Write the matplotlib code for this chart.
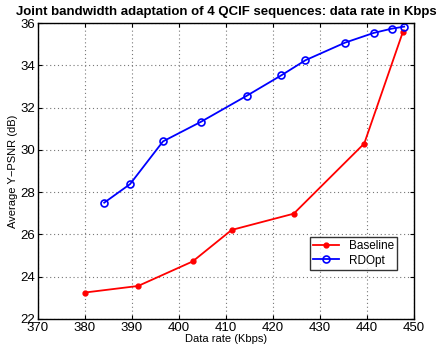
import matplotlib
matplotlib.use("Agg")
import matplotlib.pyplot as plt

plt.rcParams["font.family"] = ["Liberation Sans", "DejaVu Sans"]

# ── Data ─────────────────────────────────────────────────────────────────────
baseline_rate = [380.0, 391.3, 402.9, 411.2, 424.4, 439.4, 447.6]
baseline_psnr = [23.25, 23.56, 24.72, 26.21, 26.98, 30.30, 35.57]

rdopt_rate = [384.1, 389.6, 396.6, 404.7, 414.5, 421.8, 426.9,
              435.3, 441.4, 445.2, 447.9]
rdopt_psnr = [27.50, 28.38, 30.40, 31.33, 32.57, 33.53, 34.24,
              35.07, 35.53, 35.73, 35.83]

x_ticks = list(range(370, 451, 10))
y_ticks = list(range(22, 37, 2))

# ── Plot ─────────────────────────────────────────────────────────────────────
fig = plt.figure(figsize=(4.41, 3.54), dpi=100)
ax = fig.add_axes([0.086, 0.099, 0.853, 0.836])

ax.plot(baseline_rate, baseline_psnr, color="red", lw=1.3, marker=".",
        markersize=7, label="Baseline")
ax.plot(rdopt_rate, rdopt_psnr, color="blue", lw=1.3, marker="o",
        markersize=5, markerfacecolor="none", markeredgewidth=1.2,
        label="RDOpt")

ax.set_xlim(370, 450)
ax.set_ylim(22, 36)
ax.set_xticks(x_ticks)
ax.set_yticks(y_ticks)
ax.grid(True, linestyle=(0, (1, 2.5)), color="#777777", linewidth=0.8)
ax.tick_params(direction="in", top=True, right=True, labelsize=9.5,
               length=3, pad=2)
for s in ax.spines.values():
    s.set_linewidth(1.0)

ax.set_xlabel("Data rate (Kbps)", fontsize=8, labelpad=0)
ax.set_ylabel("Average Y\u2212PSNR (dB)", fontsize=8, labelpad=2)
ax.set_title("Joint bandwidth adaptation of 4 QCIF sequences: data rate in Kbps",
             fontsize=9.5, fontweight="bold", pad=6)

leg = ax.legend(loc="lower right", bbox_to_anchor=(0.955, 0.165),
                fontsize=8.5, frameon=True, fancybox=False, edgecolor="black",
                handlelength=2.2, borderpad=0.3, labelspacing=0.2,
                borderaxespad=0)
leg.get_frame().set_linewidth(1.0)

fig.savefig("out.png", dpi=100)
